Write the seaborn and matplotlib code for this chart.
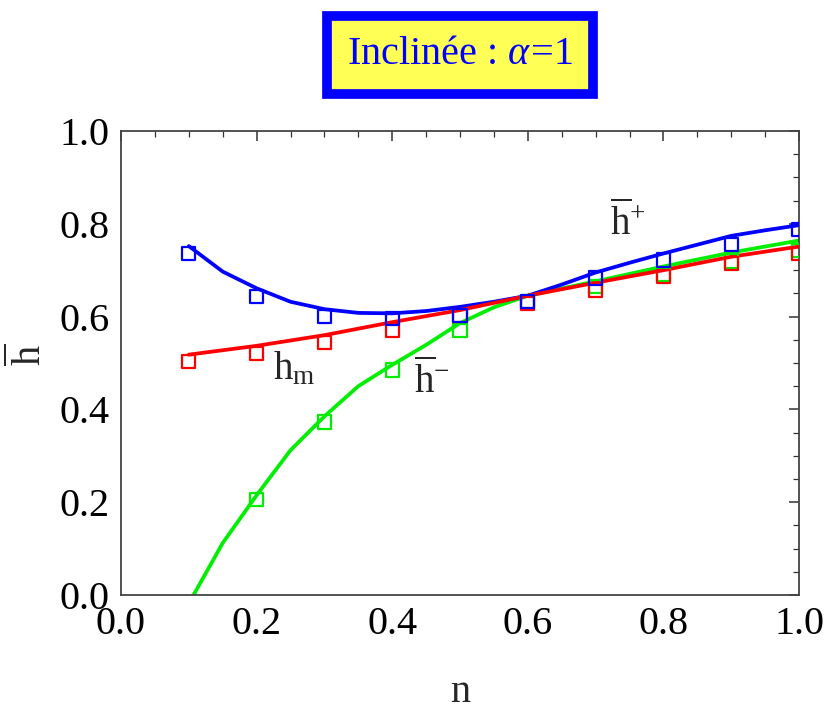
import matplotlib
matplotlib.use("Agg")
import matplotlib.pyplot as plt
import seaborn as sns
from matplotlib.ticker import MultipleLocator

# ---- data ----
n_pts = [0.1, 0.2, 0.3, 0.4, 0.5, 0.6, 0.7, 0.8, 0.9, 1.0]
hplus_pts = [0.736, 0.644, 0.600, 0.596, 0.602, 0.632, 0.683, 0.722, 0.756, 0.787]
hm_pts = [0.503, 0.521, 0.544, 0.571, 0.602, 0.629, 0.657, 0.686, 0.715, 0.736]
n_minus_pts = [0.2, 0.3, 0.4, 0.5, 0.6, 0.7, 0.8, 0.9, 1.0]
hminus_pts = [0.206, 0.373, 0.485, 0.570, 0.632, 0.665, 0.690, 0.720, 0.743]

n_plus_line = [0.1, 0.15, 0.2, 0.25, 0.3, 0.35, 0.4, 0.45, 0.5, 0.55, 0.6,
               0.65, 0.7, 0.75, 0.8, 0.85, 0.9, 0.95, 1.0]
hplus_line = [0.752, 0.697, 0.661, 0.632, 0.616, 0.608, 0.607, 0.612, 0.621,
              0.632, 0.645, 0.669, 0.695, 0.716, 0.736, 0.755, 0.774, 0.786, 0.797]
n_m_line = [0.1, 0.2, 0.3, 0.4, 0.5, 0.6, 0.7, 0.8, 0.9, 1.0]
hm_line = [0.518, 0.537, 0.560, 0.588, 0.614, 0.645, 0.673, 0.700, 0.729, 0.751]
n_minus_line = [0.107, 0.15, 0.2, 0.25, 0.3, 0.35, 0.4, 0.45, 0.5, 0.55, 0.6,
                0.7, 0.8, 0.9, 1.0]
hminus_line = [0.0, 0.112, 0.215, 0.312, 0.385, 0.450, 0.496, 0.539, 0.586,
               0.620, 0.645, 0.676, 0.708, 0.738, 0.764]

title_text = r"Inclinée : $\alpha\!=\!1$"
xlabel = "n"
ylabel = r"$\overline{\mathrm{h}}$"
lab_plus = r"$\overline{\mathrm{h}}^{+}$"
lab_m = r"$\mathrm{h_m}$"
lab_minus = r"$\overline{\mathrm{h}}^{-}$"

BLUE, RED, GREEN = "#0000ff", "#ff0000", "#00ee00"

sns.set_style("white")
plt.rcParams["font.family"] = ["Liberation Serif", "DejaVu Serif"]
plt.rcParams["mathtext.fontset"] = "custom"
plt.rcParams["mathtext.rm"] = "Liberation Serif"
plt.rcParams["mathtext.it"] = "Liberation Serif:italic"
plt.rcParams["mathtext.bf"] = "Liberation Serif:bold"

fig = plt.figure(figsize=(8.27, 7.17), dpi=100)
ax = fig.add_axes([121 / 827, 1 - 595 / 717, (799 - 121) / 827, (595 - 131) / 717])

lw = 2.7
sns.lineplot(x=n_minus_line, y=hminus_line, color=GREEN, lw=lw, ax=ax, zorder=2)
sns.lineplot(x=n_plus_line, y=hplus_line, color=BLUE, lw=lw, ax=ax, zorder=3)
sns.lineplot(x=n_m_line, y=hm_line, color=RED, lw=lw, ax=ax, zorder=4)

ms = 90
sns.scatterplot(x=n_minus_pts, y=hminus_pts, marker="s", s=ms, facecolor="none",
                edgecolor=GREEN, linewidth=1.6, ax=ax, zorder=5)
sns.scatterplot(x=n_pts, y=hm_pts, marker="s", s=ms, facecolor="none",
                edgecolor=RED, linewidth=1.6, ax=ax, zorder=6)
sns.scatterplot(x=n_pts, y=hplus_pts, marker="s", s=ms, facecolor="none",
                edgecolor=BLUE, linewidth=1.6, ax=ax, zorder=7)

ax.set_xlim(0, 1)
ax.set_ylim(0, 1)
ax.xaxis.set_major_locator(MultipleLocator(0.2))
ax.yaxis.set_major_locator(MultipleLocator(0.2))
ax.xaxis.set_minor_locator(MultipleLocator(0.05))
ax.yaxis.set_minor_locator(MultipleLocator(0.05))
ax.xaxis.set_major_formatter(matplotlib.ticker.FormatStrFormatter("%.1f"))
ax.yaxis.set_major_formatter(matplotlib.ticker.FormatStrFormatter("%.1f"))
ax.tick_params(which="both", direction="in", top=True, right=True,
               colors="#333333", labelcolor="black")
ax.tick_params(which="major", length=7, width=1.1, labelsize=29, pad=8)
ax.tick_params(which="minor", length=4, width=0.9)
for sp in ax.spines.values():
    sp.set_color("#444444")
    sp.set_linewidth(1.3)

ax.set_xlabel(xlabel, fontsize=29, va="center")
ax.xaxis.set_label_coords(0.5, -(692 - 595) / 464)
ax.set_ylabel(ylabel, fontsize=29, va="center")
ax.yaxis.set_label_coords(-(121 - 30) / 678, (595 - 355) / 464)

ax.text(0.748, 0.80, lab_plus, fontsize=28, ha="center", va="center")
ax.text(0.256, 0.487, lab_m, fontsize=28, ha="center", va="center")
ax.text(0.459, 0.460, lab_minus, fontsize=28, ha="center", va="center")

fig.text(460 / 827, 1 - 55 / 717, title_text, fontsize=29, color=BLUE,
         ha="center", va="center",
         bbox=dict(boxstyle="square,pad=0.5", facecolor="#ffff55",
                   edgecolor=BLUE, linewidth=7))

fig.savefig("out.png", dpi=100)
